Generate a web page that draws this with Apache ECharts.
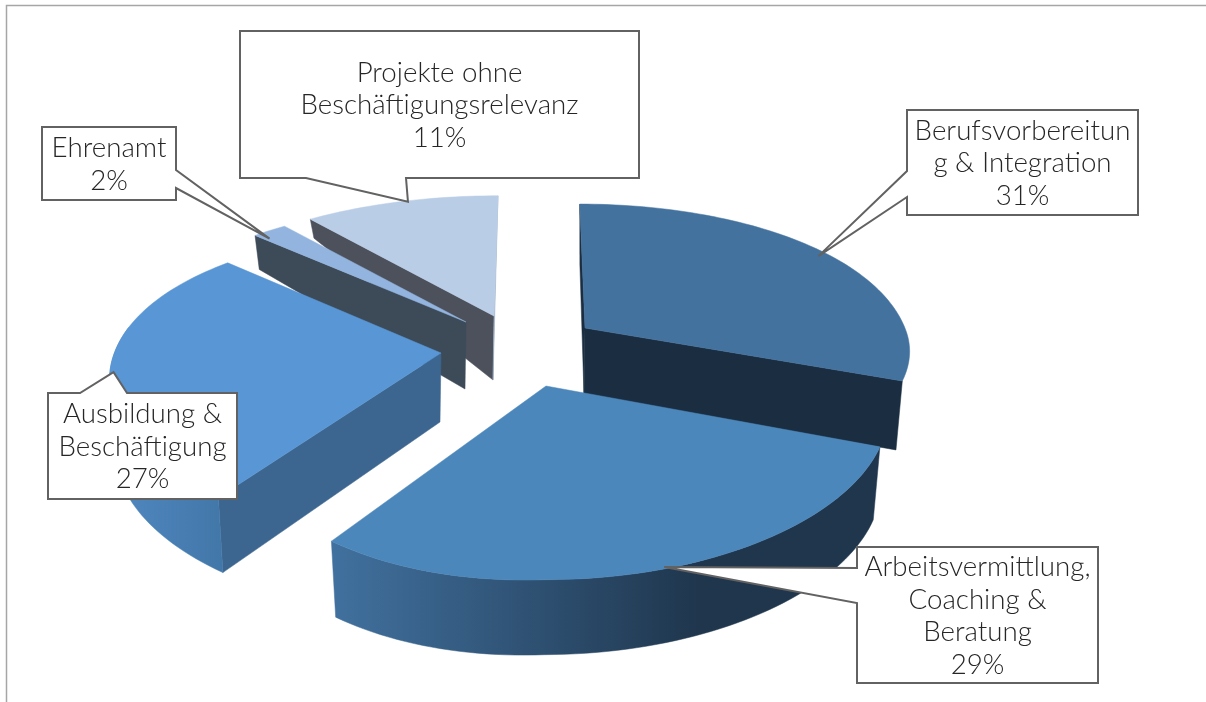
<!DOCTYPE html>
<html><head><meta charset="utf-8">
<style>html,body{margin:0;padding:0;background:#fff}#c{width:1206px;height:702px}</style>
<script src="https://cdn.jsdelivr.net/npm/echarts@6/dist/echarts.min.js"></script>
</head><body><div id="c"></div>
<script>
// ---- data ----
const categories = ['Berufsvorbereitung & Integration','Arbeitsvermittlung, Coaching & Beratung','Ausbildung & Beschäftigung','Ehrenamt','Projekte ohne Beschäftigungsrelevanz'];
const values = [31, 29, 27, 2, 11];
const labelLines = [
  ['Berufsvorbereitun','g & Integration'],
  ['Arbeitsvermittlung,','Coaching &','Beratung'],
  ['Ausbildung &','Beschäftigung'],
  ['Ehrenamt'],
  ['Projekte ohne','Beschäftigungsrelevanz']
];
// ---- look ----
const pieCentre = [500, 340];
const explode = [[85,-12],[46,46],[-59,13],[-34,-18],[-6,-24]];
const apexDepth = [67, 70, 69, 67, 64];
const edgeDepth = [[60,69],[73,76],[75,75],[34,34],[19,0]];
const topColors = ['#44729f','#4c87bb','#5896d5','#92b4de','#b9cde7'];
const cutColors = ['#1b2e41','#1b2e41','#3c6690','#3d4a58','#4c515c'];
const startCut = [1,0,1,1,1];
const endCut = ['#1b2e41','','','','#a3b4cb'];
const showWall = [0,1,1,0,0];
const wallStops = [null,[331,700,'#41719f','#1f364d'],[110,222,'#5088c0','#4277a9'],null,null];
const paintOrder = [4,3,2,0,1];
const boxes = [[907,110,231,105,'l',171,197],[857,547,241,136,'l',568,603],[48,393,189,106,'t',80,127],[42,127,134,73,'r',170,188],[240,31,399,147,'b',306,406]];
const sliceXRight = [0.955,1.005,0.975,0.975,0.99];
const sliceXLeft = [0.955,0.94,0.975,0.975,0.99];
const frontY = [0.87,1,0.97,1,1];
const backY = [1,1,1,0.96,0.97];
const leftYBoost = [0,0.07,0,0,0];
const vanishK = [0.8,0.6,0,0.3,0.6];
const tipNudge = [[-5,4],[6,-3],[3,5],[0,8],[7,0]];
const RX=335,RY=152,P=0.17,EXP=1.3,VPX=540,BOT=0.98;
const FONT='Lato';

const cum=[];values.reduce((s,v,i)=>(cum[i]=s,s+v),0);
const total=values.reduce((a,b)=>a+b,0);
const ang=i=>[cum[i]/total*360,(cum[i]+values[i])/total*360];
function apex(i){return [pieCentre[0]+explode[i][0],pieCentre[1]+explode[i][1]];}
function pt(i,deg,depth){
  const t=deg*Math.PI/180,sn=Math.sin(t),c=Math.cos(t),s=1/(1+P*c);
  const a=apex(i);
  const x=RX*(sn<0?sliceXLeft[i]:sliceXRight[i])*sn*s+(a[0]-VPX)*Math.min(0,s-1)*vanishK[i];
  const boost=sn<0?1+leftYBoost[i]*Math.abs(sn):1;
  const y=-RY*(c<0?frontY[i]:backY[i])*boost*c*Math.pow(s,EXP);
  return [a[0]+x*(depth?BOT:1), a[1]+y+(depth||0)];
}
function arc(i,a,b,fn){const n=Math.max(2,Math.ceil(Math.abs(b-a)/1.5));const o=[];for(let k=0;k<=n;k++){const d=a+(b-a)*k/n;o.push(pt(i,d,fn?fn(d):0));}return o;}
function sliceEls(i,z){
  const [a,b]=ang(i),ap=apex(i),els=[];
  const [d0,d1]=edgeDepth[i];
  const dep=d=>d0+(d1-d0)*(d-a)/(b-a);
  const apB=[ap[0]-1,ap[1]+apexDepth[i]];
  const add=(points,fill)=>els.push({type:'polygon',z2:z+els.length,shape:{points},style:{fill,stroke:fill,lineWidth:0.5}});
  if(startCut[i]) add([pt(i,a,0),ap,apB,pt(i,a,d0)],cutColors[i]);
  if(endCut[i]) add([pt(i,b,0),ap,apB,pt(i,b,d1)],endCut[i]);
  const w0=Math.max(a,75),w1=Math.min(b,280);
  if(showWall[i]&&w1>w0){
    const top=arc(i,w0,w1),bot=arc(i,w0,w1,dep).reverse();
    let fill=cutColors[i];
    if(wallStops[i]){const s=wallStops[i];fill=new echarts.graphic.LinearGradient(s[0],0,s[1],0,[{offset:0,color:s[2]},{offset:1,color:s[3]}],true);}
    add(top.concat(bot),fill);
  }
  add([ap].concat(arc(i,a,b)),topColors[i]);
  return els;
}
function calloutEls(i,z){
  const [x,y,w,h,side,t0,t1]=boxes[i];
  const [a,b]=ang(i),m=pt(i,(a+b)/2,0),tip=[m[0]+tipNudge[i][0],m[1]+tipNudge[i][1]];
  let pts;
  if(side==='l')pts=[[x,y],[x+w,y],[x+w,y+h],[x,y+h],[x,t1],tip,[x,t0]];
  if(side==='r')pts=[[x,y],[x+w,y],[x+w,t0],tip,[x+w,t1],[x+w,y+h],[x,y+h]];
  if(side==='t')pts=[[x,y],[t0,y],tip,[t1,y],[x+w,y],[x+w,y+h],[x,y+h]];
  if(side==='b')pts=[[x,y],[x+w,y],[x+w,y+h],[t1,y+h],tip,[t0,y+h],[x,y+h]];
  const txt=labelLines[i].concat([values[i]+'%']).join('\n');
  return [
    {type:'polygon',z2:z,shape:{points:pts},style:{fill:'#fff',stroke:'#626262',lineWidth:2,lineJoin:'miter'}},
    {type:'text',z2:z+1,x:x+w/2,y:y+h/2+1,style:{text:txt,fill:'#262626',font:'300 27.7px '+FONT,textAlign:'center',textVerticalAlign:'middle',lineHeight:32.5,align:'center',verticalAlign:'middle'}}
  ];
}
const chart=echarts.init(document.getElementById('c'),null,{renderer:'canvas'});
chart.setOption({
  animation:false,
  backgroundColor:'#fff',
  graphic:{elements:[
    {type:'polyline',silent:true,shape:{points:[[6.5,702],[6.5,5.5],[1206,5.5]]},style:{fill:null,stroke:'#a6a6a6',lineWidth:1.5}}
  ]},
  series:[
   {type:'custom',coordinateSystem:'none',silent:true,clip:false,
    data:paintOrder.map(i=>({name:categories[i],value:[i,values[i]]})),
    renderItem(p,api){const i=api.value(0);return {type:'group',children:sliceEls(i,(p.dataIndex+1)*20)};}},
   {type:'custom',coordinateSystem:'none',silent:true,clip:false,z:5,
    data:categories.map((c,i)=>({name:c,value:[i,values[i]]})),
    renderItem(p,api){const i=api.value(0);return {type:'group',children:calloutEls(i,300+i*5)};}}
  ]
});
</script></body></html>
